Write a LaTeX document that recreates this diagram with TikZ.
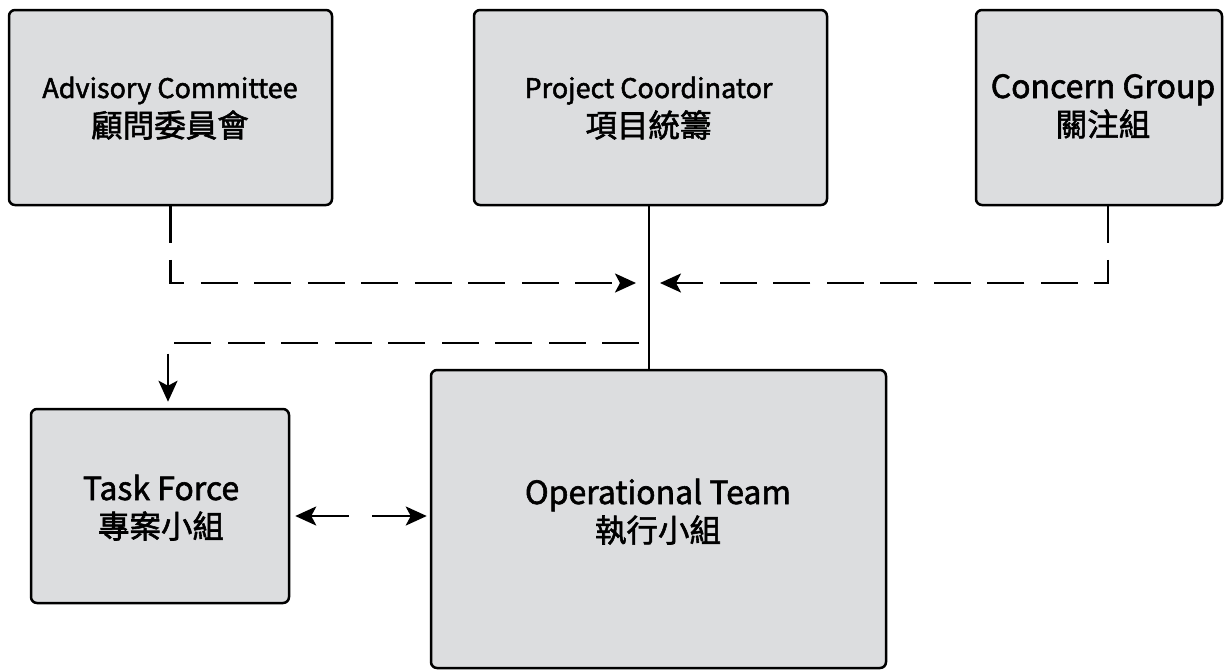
\documentclass[tikz,border=0pt]{standalone}
\usepackage{fontspec}
\setmainfont{Noto Sans CJK TC}[RawFeature={embolden=1.8}]
\usetikzlibrary{arrows.meta}
\definecolor{boxfill}{RGB}{220,221,223}
\newcommand\smallLat{\fontsize{27}{38}\selectfont}
\newcommand\bigLat{\fontsize{32}{38}\selectfont}
\newcommand\hanLine{\fontsize{31.5}{38}\selectfont}
\begin{document}
\begin{tikzpicture}[x=1pt,y=-1pt,
  >={Stealth[length=21pt,width=19pt,inset=5pt]},
  orgbox/.style={draw=black, line width=2.5pt, fill=boxfill, rounded corners=6pt, inner sep=0pt},
  lbl/.style={anchor=base, inner sep=0pt, text=black},
  conn/.style={line width=2.6pt},
  dashline/.style={conn, dash pattern=on 37pt off 16.5pt}]
  \fill[white] (0,0) rectangle (1232,670);
  \useasboundingbox (0,0) rectangle (1232,670);

  % boxes
  \node[orgbox, minimum width=323pt, minimum height=195pt] (adv)  at (170.5,107.5) {};
  \node[orgbox, minimum width=353pt, minimum height=195pt] (proj) at (650.5,107.5) {};
  \node[orgbox, minimum width=246pt, minimum height=195pt] (conc) at (1099,107.5) {};
  \node[orgbox, minimum width=258pt, minimum height=194pt] (task) at (160,506) {};
  \node[orgbox, minimum width=455pt, minimum height=298pt] (oper) at (658.5,519) {};

  % labels: English name above, Chinese name below
  \node[lbl] (advA)  at (170,98)    {\smallLat Advisory Committee};
  \node[lbl] (advB)  at (170,137)   {\hanLine 顧問委員會};
  \node[lbl] (projA) at (648.5,98)  {\smallLat Project Coordinator};
  \node[lbl] (projB) at (648.5,137) {\hanLine 項目統籌};
  \node[lbl] (concA) at (1103,98)   {\bigLat Concern Group};
  \node[lbl] (concB) at (1103,136)  {\hanLine 關注組};
  \node[lbl] (taskA) at (161,500)   {\bigLat Task Force};
  \node[lbl] (taskB) at (161,538)   {\hanLine 專案小組};
  \node[lbl] (operA) at (658,504)   {\bigLat Operational Team};
  \node[lbl] (operB) at (658,542)   {\hanLine 執行小組};

  % connectors
  \coordinate (jn) at (649,283);
  \coordinate (br) at (639,343);
  \draw[conn] ([xshift=-1.5pt]proj.south) -- ([xshift=-1.5pt]proj.south |- oper.north);
  \draw[dashline, ->] (adv.south) |- ([xshift=-13pt]jn);
  \draw[dashline, ->] ([xshift=9pt]conc.south) |- ([xshift=11pt]jn);
  \draw[dashline, ->] (br) -| ([xshift=8pt,yshift=6pt]task.north);
  \draw[conn, <->, dash pattern=on 39pt off 23pt]
    ([xshift=5pt,yshift=-10pt]task.east) -- ([xshift=-3pt,yshift=3pt]oper.west);
\end{tikzpicture}
\end{document}
